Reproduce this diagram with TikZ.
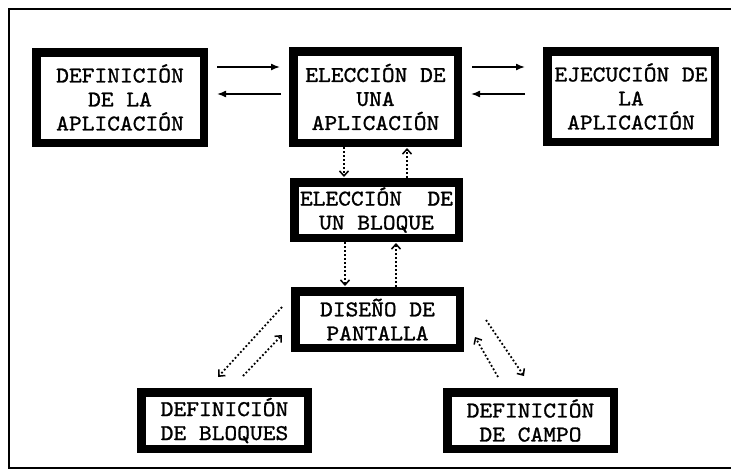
\documentclass[tikz,border=0pt]{standalone}
\usepackage{fontspec}
\newfontfamily\typew[FakeStretch=1.08,FakeBold=1.2]{lmmono10-regular.otf}
\usetikzlibrary{arrows.meta}
\begin{document}
\begin{tikzpicture}[x=1pt,y=-1pt,
  box/.style={draw, line width=8.5pt, fill=white, inner sep=0pt, outer sep=4.25pt,
    align=center, font=\typew\fontsize{22.5}{24}\selectfont},
  harrow/.style={line width=1.5pt, -{Latex[length=9pt,width=7pt]}},
  darrow/.style={line width=1.8pt, dash pattern=on 1.8pt off 2.2pt,
    -{Straight Barb[length=5pt,width=9pt,line width=1.5pt]}}]
\useasboundingbox (0,0) rectangle (731,472);
\fill[white] (0,0) rectangle (731,472);
\draw[line width=2.5pt] (731,9) -- (9,9) -- (9,468) -- (731,468);

\node[box, minimum width=167.5pt, minimum height=90.5pt] (b1) at (120,97.5) {DEFINICIÓN\\DE LA\\APLICACIÓN};
\node[box, minimum width=164.5pt, minimum height=91.5pt] (b2) at (375.5,97) {ELECCIÓN DE\\UNA\\APLICACIÓN};
\node[box, minimum width=167.5pt, minimum height=90.5pt] (b3) at (631,96.5) {EJECUCIÓN DE\\LA\\APLICACIÓN};
\node[box, minimum width=164.5pt, minimum height=55.5pt] (b4) at (376.5,210) {ELECCIÓN~~DE\\UN BLOQUE};
\node[box, minimum width=164.5pt, minimum height=56.5pt] (b5) at (377.5,319.5) {DISEÑO DE\\PANTALLA};
\node[box, minimum width=166.5pt, minimum height=56.5pt] (b6) at (224.5,420.5) {DEFINICIÓN\\DE BLOQUES};
\node[box, minimum width=166.5pt, minimum height=56.5pt] (b7) at (530.5,420.5) {DEFINICIÓN\\DE CAMPO};

\coordinate (r1) at (0,67);
\coordinate (r2) at (0,94);
\draw[harrow, shorten <=9pt, shorten >=9pt] (b1.east |- r1) -- (b2.west |- r1);
\draw[harrow, shorten <=8pt, shorten >=9pt] (b2.west |- r2) -- (b1.east |- r2);
\draw[harrow, shorten <=10pt, shorten >=18pt] (b2.east |- r1) -- (b3.west |- r1);
\draw[harrow, shorten <=18pt, shorten >=9pt] (b3.west |- r2) -- (b2.east |- r2);

\coordinate (c1) at (344,0);
\coordinate (c2) at (407,0);
\coordinate (c3) at (345,0);
\coordinate (c4) at (396,0);
\draw[darrow, shorten >=1pt] (b2.south -| c1) -- (b4.north -| c1);
\draw[darrow, shorten >=1pt] (b4.north -| c2) -- (b2.south -| c2);
\draw[darrow, shorten >=1pt] (b4.south -| c3) -- (b5.north -| c3);
\draw[darrow, shorten >=1pt] (b5.north -| c4) -- (b4.south -| c4);

\draw[darrow] ([shift={(-9pt,12.5pt)}]b5.west) -- ([shift={(-6.5pt,11pt)}]b6.north);
\draw[darrow] ([shift={(18.5pt,12pt)}]b6.north) -- ([shift={(-9pt,-15.5pt)}]b5.west);
\draw[darrow] ([shift={(-32.5pt,11pt)}]b7.north) -- ([shift={(11pt,-17.5pt)}]b5.east);
\draw[darrow] ([shift={(22pt,-0.5pt)}]b5.east) -- ([shift={(-6.5pt,12pt)}]b7.north);
\end{tikzpicture}
\end{document}
